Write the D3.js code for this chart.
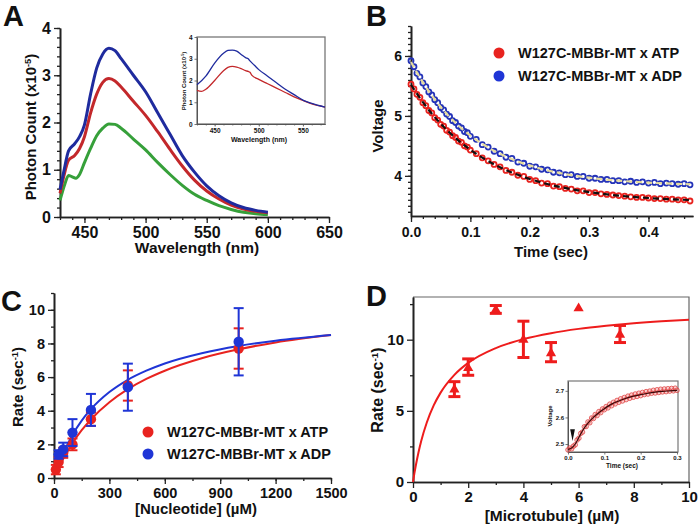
<!DOCTYPE html>
<html><head><meta charset="utf-8">
<script src="https://cdn.jsdelivr.net/npm/d3@7"></script>
<style>
body{margin:0;background:#fff}
svg{display:block}
text{font-family:Arial,"Liberation Sans",Helvetica,sans-serif;font-weight:bold;fill:#111}
</style></head>
<body><svg id="c" width="700" height="527"></svg>
<script>
// ---------- Panel A: emission spectra ----------
const specBlue  = [[430,0.58],[433,0.95],[437,1.4],[442,1.55],[446,1.7],[450,1.95],[455,2.6],[460,3.15],[465,3.45],[470,3.57],[475,3.52],[480,3.35],[490,3.0],[500,2.65],[510,2.2],[520,1.75],[530,1.3],[540,0.95],[550,0.66],[560,0.45],[570,0.3],[580,0.2],[590,0.14],[600,0.1]];
const specRed   = [[430,0.5],[433,0.85],[437,1.2],[442,1.3],[446,1.45],[450,1.7],[455,2.2],[460,2.6],[465,2.85],[470,2.93],[475,2.88],[480,2.75],[490,2.45],[500,2.15],[510,1.8],[520,1.43],[530,1.08],[540,0.78],[550,0.55],[560,0.38],[570,0.25],[580,0.17],[590,0.12],[600,0.09]];
const specGreen = [[430,0.35],[434,0.7],[437,0.88],[440,0.85],[443,0.82],[446,0.9],[450,1.15],[455,1.45],[460,1.72],[465,1.88],[470,1.97],[475,1.96],[480,1.88],[490,1.65],[500,1.42],[510,1.15],[520,0.9],[530,0.67],[540,0.48],[550,0.35],[560,0.24],[570,0.16],[580,0.1],[590,0.07],[600,0.05]];
const insetBlue = [[430,1.8],[440,2.2],[450,2.8],[460,3.25],[465,3.38],[470,3.4],[475,3.35],[480,3.2],[485,3.05],[488,3.0],[490,2.9],[495,2.7],[500,2.5],[510,2.2],[520,1.9],[530,1.6],[540,1.35],[550,1.1],[560,0.95],[575,0.78]];
const insetRed  = [[430,1.55],[435,1.5],[440,1.6],[450,2.0],[460,2.45],[465,2.6],[470,2.65],[475,2.62],[480,2.55],[485,2.45],[488,2.42],[490,2.38],[492,2.25],[500,2.05],[510,1.85],[520,1.65],[530,1.45],[540,1.25],[550,1.08],[560,0.92],[575,0.78]];
const aXTicks = [450,500,550,600,650];
const aYTicks = [0,1,2,3,4];

// ---------- Panel B: stopped-flow traces ----------
const bTime = [0,0.005,0.01,0.015,0.02,0.025,0.03,0.035,0.04,0.045,0.05,0.055,0.06,0.065,0.07,0.075,0.08,0.085,0.09,0.095,0.1,0.11,0.12,0.13,0.14,0.15,0.16,0.17,0.18,0.19,0.2,0.21,0.22,0.23,0.24,0.25,0.26,0.27,0.28,0.29,0.3,0.31,0.32,0.33,0.34,0.35,0.36,0.37,0.38,0.39,0.4,0.41,0.42,0.43,0.44,0.45,0.46,0.47];
const bATP = [5.53,5.45,5.36,5.31,5.22,5.17,5.09,5.05,4.97,4.93,4.86,4.83,4.76,4.73,4.67,4.64,4.58,4.56,4.50,4.48,4.43,4.37,4.30,4.25,4.19,4.15,4.09,4.06,4.01,3.99,3.94,3.92,3.88,3.87,3.83,3.82,3.79,3.78,3.75,3.75,3.72,3.72,3.70,3.69,3.68,3.67,3.66,3.65,3.64,3.64,3.63,3.62,3.62,3.61,3.61,3.60,3.60,3.58];
const bADP = [5.92,5.82,5.71,5.65,5.55,5.49,5.40,5.35,5.27,5.22,5.14,5.10,5.03,4.99,4.92,4.89,4.83,4.80,4.74,4.72,4.66,4.61,4.52,4.48,4.41,4.37,4.31,4.29,4.23,4.21,4.16,4.15,4.11,4.10,4.06,4.05,4.02,4.02,3.99,3.99,3.96,3.96,3.94,3.94,3.92,3.92,3.90,3.91,3.89,3.90,3.88,3.89,3.87,3.88,3.87,3.86,3.87,3.85];
const bFitTime = [0,0.02,0.04,0.06,0.08,0.1,0.12,0.15,0.18,0.21,0.25,0.3,0.35,0.4,0.47];
const bFitATP = [5.52,5.229,4.980,4.769,4.589,4.435,4.304,4.143,4.017,3.917,3.817,3.729,3.670,3.630,3.596];
const bFitADP = [5.90,5.559,5.274,5.036,4.838,4.672,4.533,4.367,4.240,4.143,4.048,3.969,3.919,3.887,3.860];
const bXTicks = [0,0.1,0.2,0.3,0.4];
const bYTicks = [4,5,6];
const seriesNames = ["W127C-MBBr-MT x ATP","W127C-MBBr-MT x ADP"];

// ---------- Panel C: nucleotide dependence ----------
const cATP = [[10,0.5,0.28],[25,0.95,0.3],[50,1.5,0.3],[100,2.0,0.35],[200,3.5,0.4],[400,5.5,0.9],[1000,7.7,1.2]];
const cADP = [[25,1.4,0.25],[50,1.7,0.4],[100,2.7,0.8],[200,4.05,0.95],[400,5.4,1.4],[1000,8.1,2.0]];
const cFitX = [10,25,50,100,150,200,300,400,500,600,800,1000,1200,1500];
const cFitATP = [0.25,0.60,1.14,2.07,2.84,3.48,4.50,5.28,5.89,6.38,7.12,7.65,8.06,8.50];
const cFitADP = [0.33,0.79,1.46,2.56,3.41,4.09,5.11,5.84,6.38,6.81,7.42,7.85,8.16,8.50];
const cXTicks = [0,300,600,900,1200,1500];
const cYTicks = [0,2,4,6,8,10];

// ---------- Panel D: microtubule dependence ----------
const dPts = [[1.5,6.5,7.05,6.0],[2,8.0,8.65,7.5],[3,12.1,12.4,11.85],[4,10.0,11.3,8.75],[5,9.05,9.8,8.45],[6,12.2,null,null],[7.5,10.35,11.0,9.8]];
const dFitX = [0,0.05,0.1,0.2,0.3,0.5,0.75,1,1.5,2,3,4,5,6,7,8,9,10];
const dFitY = [0,0.60,1.14,2.09,2.90,4.18,5.38,6.28,7.53,8.37,9.41,10.04,10.46,10.76,10.98,11.16,11.30,11.41];
const dXTicks = [0,2,4,6,8,10];
const dYTicks = [0,5,10];
const dInsetT = [0,0.005,0.01,0.015,0.02,0.025,0.03,0.035,0.04,0.045,0.05,0.055,0.06,0.065,0.07,0.075,0.08,0.085,0.09,0.095,0.1,0.105,0.11,0.115,0.12,0.125,0.13,0.135,0.14,0.145,0.15,0.155,0.16,0.165,0.17,0.175,0.18,0.185,0.19,0.195,0.2,0.205,0.21,0.215,0.22,0.225,0.23,0.235,0.24,0.245,0.25,0.255,0.26,0.265,0.27,0.275,0.28,0.285,0.29,0.295,0.3];
const dInsetV = [2.478,2.485,2.482,2.492,2.497,2.515,2.522,2.540,2.545,2.565,2.566,2.583,2.580,2.598,2.596,2.611,2.607,2.622,2.618,2.632,2.629,2.641,2.636,2.650,2.644,2.657,2.651,2.664,2.657,2.670,2.662,2.675,2.667,2.680,2.672,2.684,2.676,2.688,2.679,2.691,2.682,2.694,2.686,2.697,2.688,2.699,2.691,2.702,2.692,2.704,2.694,2.706,2.696,2.707,2.697,2.708,2.699,2.709,2.700,2.710,2.702];
const dInsetFitT = [0,0.01,0.02,0.03,0.04,0.05,0.06,0.07,0.08,0.09,0.1,0.12,0.14,0.16,0.18,0.2,0.22,0.24,0.26,0.28,0.3];
const dInsetFitV = [2.480,2.485,2.500,2.525,2.550,2.570,2.586,2.600,2.612,2.623,2.633,2.650,2.662,2.672,2.680,2.686,2.691,2.695,2.698,2.700,2.702];

const svg = d3.select("#c");
const C = {blueA:"#1f2b9e", redA:"#c3282b", greenA:"#36a03a", red:"#e8231f", blue:"#1f35d6", blueB:"#2433b8", redD:"#ee1c1c"};

function axes(g, x, y, o){
  const xa = g.append("g").attr("transform",`translate(0,${y.range()[0]})`)
    .call(d3.axisBottom(x).tickValues(o.xt).tickSize(o.tl||6).tickSizeOuter(0).tickFormat(o.xf||d3.format("")));
  const ya = g.append("g").attr("transform",`translate(${x.range()[0]},0)`)
    .call(d3.axisLeft(y).tickValues(o.yt).tickSize(o.tl||6).tickSizeOuter(0).tickFormat(o.yf||d3.format("")));
  if(o.xm) g.append("g").attr("transform",`translate(0,${y.range()[0]})`)
    .call(d3.axisBottom(x).tickValues(o.xm).tickSize(o.ml||3).tickSizeOuter(0).tickFormat(""));
  if(o.ym) g.append("g").attr("transform",`translate(${x.range()[0]},0)`)
    .call(d3.axisLeft(y).tickValues(o.ym).tickSize(o.ml||3).tickSizeOuter(0).tickFormat(""));
  g.selectAll(".domain").attr("stroke",o.col||"#222").attr("stroke-width",o.sw||1.6);
  g.selectAll(".tick line").attr("stroke",o.col||"#222").attr("stroke-width",o.tw||1.3);
  xa.selectAll("text").attr("font-size",o.fs).attr("fill","#111").attr("dy",o.xdy||"0.85em");
  ya.selectAll("text").attr("font-size",o.fs).attr("fill","#111");
  if(o.pad!=null){ xa.selectAll("text").attr("y",o.tl+o.pad); ya.selectAll("text").attr("x",-(o.tl+o.pad)); }
  g.selectAll("text").style("font-family","Arial,'Liberation Sans',sans-serif").style("font-weight","bold");
}
function label(g, txt, x, y, fs, rot, sup, post){
  const t = g.append("text").attr("font-size",fs).attr("text-anchor","middle")
    .attr("transform",`translate(${x},${y})${rot?" rotate(-90)":""}`);
  t.append("tspan").text(txt);
  if(sup){ t.append("tspan").attr("baseline-shift","super").attr("font-size",fs*0.62).text(sup);
           t.append("tspan").text(post); }
  return t;
}
function letter(txt,x,y){ svg.append("text").attr("x",x).attr("y",y).attr("font-size",29).text(txt); }
function range(a,b,s){ const r=[]; for(let v=a; v<=b+1e-9; v+=s) r.push(+v.toFixed(4)); return r; }

// ================= A =================
{
  const g = svg.append("g");
  const x = d3.scaleLinear().domain([430,650]).range([60,329]);
  const y = d3.scaleLinear().domain([0,4]).range([217,28]);
  axes(g,x,y,{xt:aXTicks,yt:aYTicks,xm:range(430,650,10),ym:range(0,4,0.2),fs:16,tl:6,ml:3,xdy:"0.72em"});
  const line = d3.line().x(d=>x(d[0])).y(d=>y(d[1])).curve(d3.curveMonotoneX);
  [[specGreen,C.greenA],[specRed,C.redA],[specBlue,C.blueA]].forEach(([d,c])=>
    g.append("path").datum(d).attr("d",line).attr("fill","none").attr("stroke",c).attr("stroke-width",3));
  label(g,"Photon Count (x10",36,127,15,true,"-5",")");
  label(g,"Wavelength (nm)",197,253,15.5,false);
  // inset
  const xi = d3.scaleLinear().domain([430,575]).range([197,325]);
  const yi = d3.scaleLinear().domain([0,4]).range([124,37]);
  const gi = svg.append("g");
  gi.append("rect").attr("x",197).attr("y",37).attr("width",128).attr("height",87).attr("fill","#fff").attr("stroke","#777").attr("stroke-width",1.3);
  axes(gi,xi,yi,{xt:[450,500,550],yt:[0,1,2,3,4],xm:range(430,570,10),fs:6.5,tl:2.5,ml:1.5,sw:1,tw:0.8,col:"#555",xdy:"0.72em",pad:2});
  const li = d3.line().x(d=>xi(d[0])).y(d=>yi(d[1])).curve(d3.curveMonotoneX);
  gi.append("path").datum(insetRed).attr("d",li).attr("fill","none").attr("stroke",C.redA).attr("stroke-width",1.3);
  gi.append("path").datum(insetBlue).attr("d",li).attr("fill","none").attr("stroke",C.blueA).attr("stroke-width",1.3);
  label(gi,"Photon Count (x10",186,81,6,true,"-5",")");
  label(gi,"Wavelength (nm)",259,142,7,false);
  letter("A",3,26);
}

// ================= B =================
{
  const g = svg.append("g");
  const x = d3.scaleLinear().domain([0,0.475]).range([411,693]);
  const y = d3.scaleLinear().domain([3.33,6.5]).range([216,26]);
  axes(g,x,y,{xt:bXTicks,yt:bYTicks,xm:range(0,0.46,0.02),ym:range(3.4,6.5,0.1),fs:14,tl:6,ml:3,xf:d3.format(".1f")});
  const ser = [[bATP,C.red,bFitATP,"#111"],[bADP,C.blueB,bFitADP,"#e6dc9c"]];
  ser.forEach(([v,c])=>{
    g.append("g").selectAll("circle").data(bTime).join("circle")
      .attr("cx",(t)=>x(t)).attr("cy",(t,i)=>y(v[i])).attr("r",2.5)
      .attr("fill","none").attr("stroke",c).attr("stroke-width",1.8);
  });
  const fl = (v)=>d3.line().x((t)=>x(t)).y((t,i)=>y(v[i])).curve(d3.curveMonotoneX);
  ser.forEach(([v,c,f,fc])=>{
    g.append("path").datum(bFitTime).attr("d",fl(f)).attr("fill","none").attr("stroke",fc)
      .attr("stroke-width",2.2).attr("stroke-dasharray","6,4");
  });
  // legend
  [[C.red,53],[C.blue,76]].forEach(([c,yy],i)=>{
    g.append("circle").attr("cx",499).attr("cy",yy).attr("r",5.5).attr("fill",c);
    g.append("text").attr("x",518).attr("y",yy+5).attr("font-size",14.5).text(seriesNames[i]);
  });
  label(g,"Voltage",383,126,15,true);
  label(g,"Time (sec)",551,257,15,false);
  letter("B",366,26);
}

// ================= C =================
{
  const g = svg.append("g");
  const x = d3.scaleLinear().domain([0,1500]).range([54,331]);
  const y = d3.scaleLinear().domain([0,11]).range([478,293]);
  axes(g,x,y,{xt:cXTicks,yt:cYTicks,xm:range(0,1500,150),ym:range(0,11,1),fs:14.5,tl:6,ml:3,xdy:"0.75em"});
  const fl = (v)=>d3.line().x((d)=>x(d)).y((d,i)=>y(v[i])).curve(d3.curveMonotoneX);
  [[cFitATP,C.red],[cFitADP,C.blue]].forEach(([v,c])=>
    g.append("path").datum(cFitX).attr("d",fl(v)).attr("fill","none").attr("stroke",c).attr("stroke-width",2));
  [[cATP,C.red],[cADP,C.blue]].forEach(([data,c])=>{
    const e = g.append("g").attr("stroke",c).attr("stroke-width",2);
    data.forEach(d=>{
      const cx=x(d[0]), y1=y(d[1]+d[2]), y2=y(d[1]-d[2]);
      e.append("line").attr("x1",cx).attr("x2",cx).attr("y1",y1).attr("y2",y2);
      e.append("line").attr("x1",cx-5).attr("x2",cx+5).attr("y1",y1).attr("y2",y1);
      e.append("line").attr("x1",cx-5).attr("x2",cx+5).attr("y1",y2).attr("y2",y2);
    });
    g.append("g").selectAll("circle").data(data).join("circle")
      .attr("cx",d=>x(d[0])).attr("cy",d=>y(d[1])).attr("r",5.2).attr("fill",c);
  });
  [[C.red,432],[C.blue,454]].forEach(([c,yy],i)=>{
    g.append("circle").attr("cx",148).attr("cy",yy).attr("r",5.5).attr("fill",c);
    g.append("text").attr("x",167).attr("y",yy+5).attr("font-size",14.5).text(seriesNames[i]);
  });
  label(g,"Rate (sec",23,387,15,true,"-1",")");
  label(g,"[Nucleotide] (\u00b5M)",196,514,15,false);
  letter("C",1,311);
}

// ================= D =================
{
  const g = svg.append("g");
  const x = d3.scaleLinear().domain([0,10]).range([413,689]);
  const y = d3.scaleLinear().domain([0,13]).range([482,297]);
  g.append("path").attr("d",`M${x(0)},${y(13)}H${x(10)}V${y(0)}`).attr("fill","none").attr("stroke","#666").attr("stroke-width",1.2);
  axes(g,x,y,{xt:dXTicks,yt:dYTicks,xm:range(1,9,2),ym:[2.5,7.5,12.5],fs:15,tl:6,ml:3,xdy:"0.75em"});
  const fl = d3.line().x((d)=>x(d)).y((d,i)=>y(dFitY[i])).curve(d3.curveMonotoneX);
  g.append("path").datum(dFitX).attr("d",fl).attr("fill","none").attr("stroke",C.redD).attr("stroke-width",2);
  const e = g.append("g").attr("stroke",C.redD).attr("stroke-width",3);
  dPts.forEach(d=>{
    if(d[2]==null) return;
    const cx=x(d[0]), y1=y(d[2]), y2=y(d[3]);
    e.append("line").attr("x1",cx).attr("x2",cx).attr("y1",y1).attr("y2",y2);
    e.append("line").attr("x1",cx-6).attr("x2",cx+6).attr("y1",y1).attr("y2",y1);
    e.append("line").attr("x1",cx-6).attr("x2",cx+6).attr("y1",y2).attr("y2",y2);
  });
  g.append("g").selectAll("path").data(dPts).join("path")
    .attr("d",d3.symbol(d3.symbolTriangle,45)).attr("transform",d=>`translate(${x(d[0])},${y(d[1])})`).attr("fill",C.redD);
  label(g,"Rate (sec",383,390,16,true,"-1",")");
  label(g,"[Microtubule] (\u00b5M)",552,521,15.5,false);
  letter("D",366,306);
  // inset
  const xi = d3.scaleLinear().domain([0,0.3]).range([568,677]);
  const yi = d3.scaleLinear().domain([2.47,2.737]).range([452,381]);
  const gi = svg.append("g");
  gi.append("rect").attr("x",568).attr("y",381).attr("width",110).attr("height",71).attr("fill","#fff").attr("stroke","#777").attr("stroke-width",1.2);
  axes(gi,xi,yi,{xt:[0,0.1,0.2,0.3],yt:[2.5,2.6,2.7],fs:6,tl:2.5,sw:1,tw:0.8,col:"#555",xf:d3.format(".1f"),yf:d3.format(".1f"),xdy:"0.72em",pad:1.5});
  gi.append("g").selectAll("circle").data(dInsetT).join("circle")
    .attr("cx",t=>xi(t)).attr("cy",(t,i)=>yi(dInsetV[i])).attr("r",2.3)
    .attr("fill","rgba(240,120,120,0.35)").attr("stroke","#e04848").attr("stroke-width",0.8);
  const fi = d3.line().x(t=>xi(t)).y((t,i)=>yi(dInsetFitV[i])).curve(d3.curveMonotoneX);
  gi.append("path").datum(dInsetFitT).attr("d",fi).attr("fill","none").attr("stroke","#3a0a0a").attr("stroke-width",1.2);
  gi.append("path").attr("d",`M${xi(0.006)},${yi(2.556)}L${xi(0.019)},${yi(2.556)}L${xi(0.0125)},${yi(2.511)}Z`).attr("fill","#111");
  label(gi,"Voltage",552,416,6,true);
  label(gi,"Time (sec)",622,468,6.5,false);
}
</script></body></html>
